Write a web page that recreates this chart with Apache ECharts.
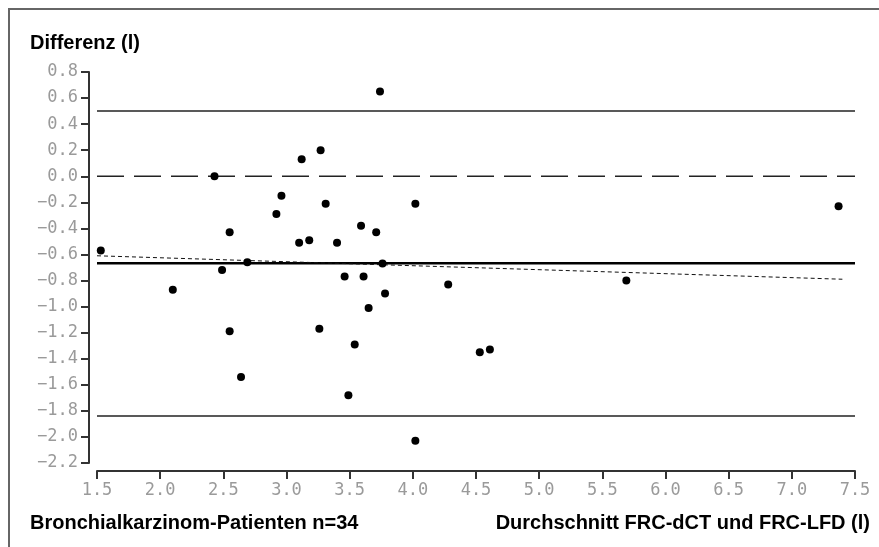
<!DOCTYPE html>
<html>
<head>
<meta charset="utf-8">
<script src="https://cdn.jsdelivr.net/npm/echarts@6/dist/echarts.min.js"></script>
<style>html,body{margin:0;padding:0;background:#fff}#c{width:879px;height:547px}</style>
</head>
<body>
<div id="c"></div>
<script>
// Bland-Altman data: mean (x) and difference (y)
const meanValues = [1.53, 2.10, 2.43, 2.49, 2.55, 2.55, 2.64, 2.69, 2.92, 2.96, 3.10, 3.12, 3.18, 3.26, 3.27, 3.31, 3.40,
  3.46, 3.49, 3.54, 3.59, 3.61, 3.65, 3.71, 3.74, 3.76, 3.78, 4.02, 4.02, 4.28, 4.53, 4.61, 5.69, 7.37];
const diffValues = [-0.57, -0.87, 0.00, -0.72, -0.43, -1.19, -1.54, -0.66, -0.29, -0.15, -0.51, 0.13, -0.49, -1.17, 0.20, -0.21, -0.51,
  -0.77, -1.68, -1.29, -0.38, -0.77, -1.01, -0.43, 0.65, -0.67, -0.90, -0.21, -2.03, -0.83, -1.35, -1.33, -0.80, -0.23];
const lineRangeX = [1.5, 7.5];
const upperLimit = 0.5;
const zeroLine = 0.0;
const meanDiff = -0.667;
const lowerLimit = -1.84;
const regressionX = [1.5, 7.4];
const regressionY = [-0.61, -0.79];
const yAxisTitle = 'Differenz (l)';
const xAxisTitle = 'Durchschnitt FRC-dCT und FRC-LFD (l)';
const groupLabel = 'Bronchialkarzinom-Patienten n=34';

const points = meanValues.map((x, i) => [x, diffValues[i]]);
const hLine = v => lineRangeX.map(x => [x, v]);
const fmt = v => v.toFixed(1).replace('-', '\u2212');

const chart = echarts.init(document.getElementById('c'), null, {renderer: 'canvas'});
const labelFont = {color: '#9a9a9a', fontFamily: 'DejaVu Sans Mono', fontSize: 17};
const boldText = {fontFamily: 'Liberation Sans', fontWeight: 'bold', fontSize: 20, fill: '#000'};
chart.setOption({
  backgroundColor: '#fff',
  animation: false,
  grid: {left: 97, right: 24, top: 72, bottom: 84},
  xAxis: {
    type: 'value', min: 1.5, max: 7.5, interval: 0.5, offset: 8,
    axisLine: {show: true, onZero: false, lineStyle: {color: '#333', width: 2}},
    axisTick: {show: true, length: 8, lineStyle: {color: '#333', width: 2}},
    axisLabel: Object.assign({margin: 11, formatter: fmt, showMinLabel: true, showMaxLabel: true}, labelFont),
    splitLine: {show: false}
  },
  yAxis: {
    type: 'value', min: -2.2, max: 0.8, interval: 0.2, offset: 8,
    axisLine: {show: true, onZero: false, lineStyle: {color: '#333', width: 2}},
    axisTick: {show: true, length: 8, lineStyle: {color: '#333', width: 2}},
    axisLabel: Object.assign({margin: 11, formatter: fmt, showMinLabel: true, showMaxLabel: true}, labelFont),
    splitLine: {show: false}
  },
  graphic: [
    {type: 'line', shape: {x1: 8, y1: 9, x2: 879, y2: 9}, style: {stroke: '#666', lineWidth: 2}},
    {type: 'line', shape: {x1: 9, y1: 8, x2: 9, y2: 547}, style: {stroke: '#666', lineWidth: 2}},
    {type: 'text', left: 30, top: 33, style: Object.assign({text: yAxisTitle}, boldText)},
    {type: 'text', left: 30, top: 513, style: Object.assign({text: groupLabel}, boldText)},
    {type: 'text', right: 9, top: 513, style: Object.assign({text: xAxisTitle}, boldText)}
  ],
  series: [
    {type: 'line', data: hLine(upperLimit), symbol: 'none', silent: true, lineStyle: {color: '#222', width: 1.5}},
    {type: 'line', data: hLine(zeroLine), symbol: 'none', silent: true, lineStyle: {color: '#222', width: 1.6, type: [27, 10]}},
    {type: 'line', data: hLine(meanDiff), symbol: 'none', silent: true, lineStyle: {color: '#000', width: 2.6}},
    {type: 'line', data: hLine(lowerLimit), symbol: 'none', silent: true, lineStyle: {color: '#222', width: 1.5}},
    {type: 'line', data: regressionX.map((x, i) => [x, regressionY[i]]), symbol: 'none', silent: true,
      lineStyle: {color: '#111', width: 1, type: [4, 3]}},
    {type: 'scatter', data: points, symbol: 'circle', symbolSize: 8, itemStyle: {color: '#000', opacity: 1}, z: 5}
  ]
});
</script>
</body>
</html>
